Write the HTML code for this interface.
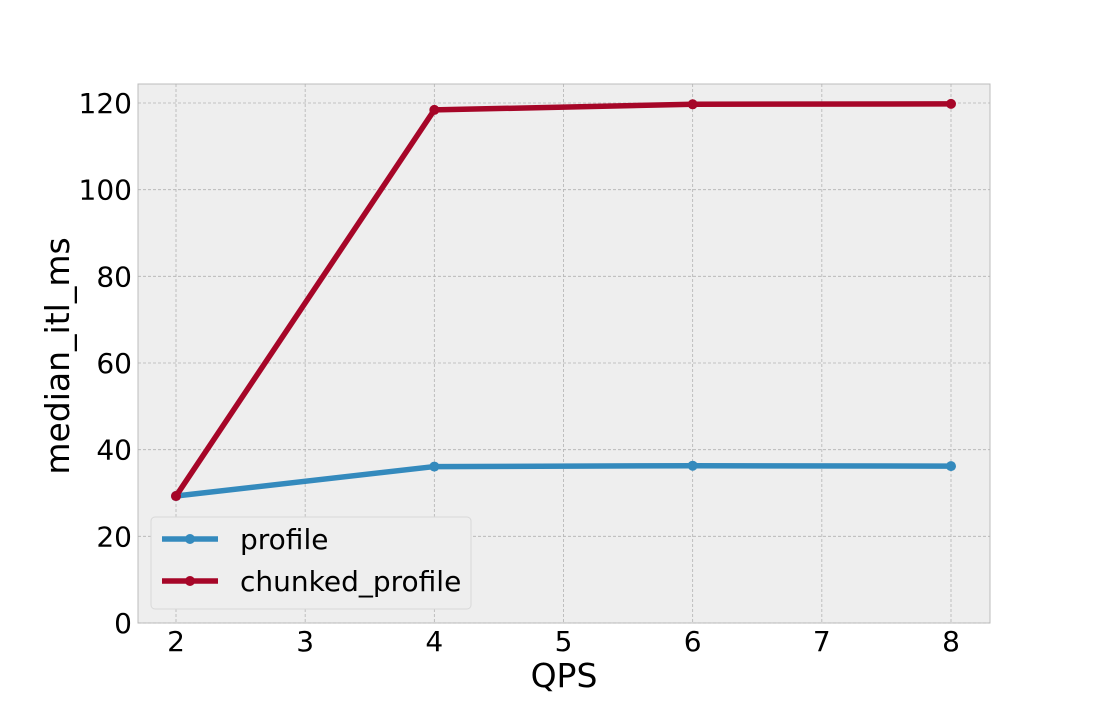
<!DOCTYPE html>
<html><head><meta charset="utf-8"><style>
body{margin:0;background:#fff;}
svg{font-family:"DejaVu Sans","Liberation Sans",sans-serif;}
</style></head><body>
<svg id="chart" width="1100" height="700">
<rect x="138" y="84" width="852" height="539" fill="#eeeeee" stroke="#bcbcbc"/>
<g id="grid"></g><g id="ticks"></g><g id="series"></g>
<text x="564" y="687" font-size="33" text-anchor="middle">QPS</text>
<text transform="translate(69,356) rotate(-90)" font-size="33" text-anchor="middle">median_itl_ms</text>
<g>
<rect x="151" y="517" width="320" height="92" rx="4" fill="#eeeeee" stroke="#d8d8d8"/>
<g>
<line x1="162" y1="539" x2="218" y2="539" stroke="#348abd" stroke-width="5.5"/><circle cx="190" cy="539" r="5" fill="#348abd"/>
<text x="240" y="549" font-size="28">profile</text></g>
<g>
<line x1="162" y1="581" x2="218" y2="581" stroke="#a60628" stroke-width="5.5"/><circle cx="190" cy="581" r="5" fill="#a60628"/>
<text x="240" y="591" font-size="28">chunked_profile</text></g>
</g>
</svg>
<script>
const qps=[2,4,6,8];
const profile=[29.3,36.1,36.3,36.2];
const chunkedProfile=[29.3,118.4,119.7,119.8];
const xTicks=[2,3,4,5,6,7,8];
const yTicks=[0,20,40,60,80,100,120];
const NS="http://www.w3.org/2000/svg";
const xs=v=>176+(v-2)*(951-176)/6;
const ys=v=>623-v*(623-103)/120;
const grid=document.getElementById('grid'),ticks=document.getElementById('ticks'),ser=document.getElementById('series');
function mk(tag,attrs,parent){const e=document.createElementNS(NS,tag);for(const k in attrs)e.setAttribute(k,attrs[k]);parent.appendChild(e);return e;}
xTicks.forEach(t=>{
 const g=mk('line',{x1:xs(t),x2:xs(t),y1:84,y2:623,stroke:'#b2b2b2','stroke-width':0.8,'stroke-dasharray':'3,2'},grid);
 
 
 const l=mk('text',{x:xs(t),y:651,'font-size':28,'text-anchor':'middle'},ticks);l.textContent=t;
 
 
});
yTicks.forEach(t=>{
 const g=mk('line',{x1:138,x2:990,y1:ys(t),y2:ys(t),stroke:'#b2b2b2','stroke-width':0.8,'stroke-dasharray':'3,2'},grid);
 
 
 const l=mk('text',{x:132,y:ys(t)+10,'font-size':28,'text-anchor':'end'},ticks);l.textContent=t;
 
 
});
function draw(vals,color,name){
 const p=mk('polyline',{points:qps.map((q,i)=>xs(q)+','+ys(vals[i])).join(' '),fill:'none',stroke:color,'stroke-width':5.5,'stroke-linejoin':'round'},ser);
 
 
 qps.forEach((q,i)=>{const c=mk('circle',{cx:xs(q),cy:ys(vals[i]),r:5,fill:color},ser);
  
  });
}
draw(profile,'#348abd','profile');
draw(chunkedProfile,'#a60628','chunked-profile');
</script>
</body></html>
